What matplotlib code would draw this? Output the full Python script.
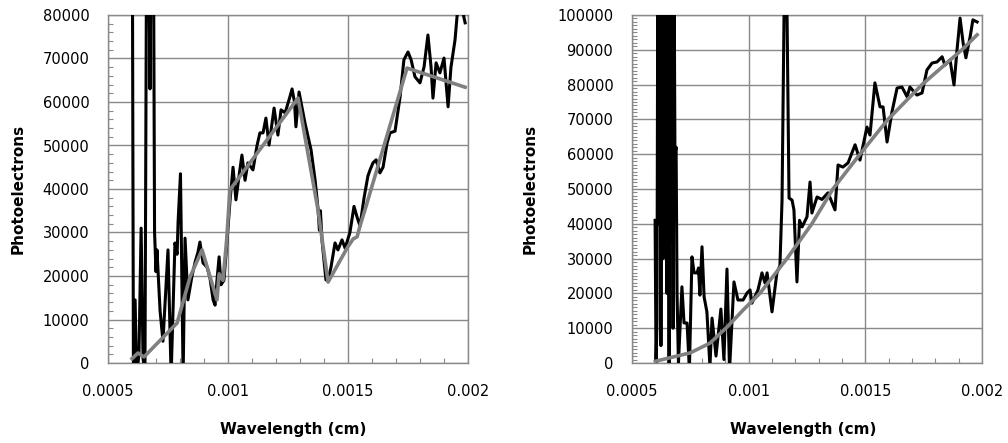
import matplotlib
matplotlib.use("Agg")
import matplotlib.pyplot as plt
from matplotlib.ticker import MultipleLocator, FixedLocator

# ---- left panel: measured spectrum and fitted curve ----
left_wl = [0.000600, 0.000606, 0.000613, 0.000619, 0.000629, 0.000638, 0.000646,
           0.000654, 0.000663, 0.000669, 0.000675, 0.000683, 0.000690, 0.000694,
           0.000700, 0.000704, 0.000717, 0.000729, 0.000750, 0.000763, 0.000779,
           0.000788, 0.000792, 0.000802, 0.000813, 0.000821, 0.000833, 0.000850,
           0.000863, 0.000875, 0.000883, 0.000896, 0.000913, 0.000925, 0.000938,
           0.000946, 0.000954, 0.000963, 0.000971, 0.000983, 0.000996, 0.001008,
           0.001021, 0.001033, 0.001046, 0.001058, 0.001071, 0.001083, 0.001104,
           0.001121, 0.001133, 0.001146, 0.001158, 0.001171, 0.001192, 0.001208,
           0.001221, 0.001238, 0.001258, 0.001267, 0.001277, 0.001283, 0.001296,
           0.001321, 0.001346, 0.001363, 0.001375, 0.001381, 0.001385, 0.001392,
           0.001408, 0.001417, 0.001429, 0.001446, 0.001458, 0.001475, 0.001488,
           0.001508, 0.001525, 0.001538, 0.001550, 0.001567, 0.001583, 0.001592,
           0.001604, 0.001617, 0.001633, 0.001646, 0.001663, 0.001675, 0.001696,
           0.001717, 0.001733, 0.001750, 0.001763, 0.001779, 0.001800, 0.001817,
           0.001833, 0.001846, 0.001854, 0.001867, 0.001883, 0.001900, 0.001917,
           0.001929, 0.001946, 0.001958, 0.001971, 0.001979, 0.001988]
left_counts = [130000, -3000, 14500, -3000, 2000, 31000, 1000,
               -2000, 130000, 100000, 63000, 120000, 90000, 30000,
               21000, 26000, 12000, 5000, 26000, -3000, 27600,
               25000, 32400, 43500, -3000, 28700, 14500, 20000,
               23200, 25500, 27800, 23000, 22000, 19500, 14500,
               13300, 19000, 24400, 18000, 19000, 28000, 37000,
               45000, 37500, 43000, 47800, 42000, 46000, 44400,
               50000, 52900, 52900, 56300, 50100, 58600, 52400,
               58200, 57500, 61200, 63000, 60000, 54300, 62300,
               55100, 49000, 42000, 35500, 30500, 35000, 28000,
               19100, 19000, 22000, 27600, 26000, 28300, 26400,
               30000, 36000, 33500, 31500, 38000, 43000, 44400,
               46000, 46700, 43700, 45000, 50600, 52900, 53300,
               61200, 69700, 71500, 69700, 65800, 64400, 68100,
               75400, 68100, 60900, 69000, 66700, 70100, 58900,
               68000, 74300, 82000, 84000, 80500, 78200]

left_fit_wl = [0.000600, 0.000625, 0.000650, 0.000788, 0.000842, 0.000892,
               0.000954, 0.000963, 0.000979, 0.000994, 0.001008, 0.001292,
               0.001375, 0.001417, 0.001496, 0.001521, 0.001538, 0.001550,
               0.001575, 0.001746, 0.001988]
left_fit = [1000, 2300, 1400, 9200, 19800, 26000,
            14500, 20500, 19000, 28000, 39800, 60900,
            35200, 18600, 26400, 28500, 29000, 31500,
            36000, 67800, 63400]

# ---- right panel: measured spectrum and fitted curve ----
right_wl = [0.000599, 0.000603, 0.000607, 0.000611, 0.000616, 0.000620, 0.000624,
            0.000629, 0.000633, 0.000637, 0.000641, 0.000646, 0.000650, 0.000654,
            0.000659, 0.000663, 0.000667, 0.000671, 0.000676, 0.000680, 0.000684,
            0.000689, 0.000693, 0.000699, 0.000714, 0.000723, 0.000736, 0.000746,
            0.000757, 0.000766, 0.000779, 0.000785, 0.000791, 0.000800, 0.000809,
            0.000821, 0.000834, 0.000843, 0.000860, 0.000881, 0.000894, 0.000907,
            0.000918, 0.000937, 0.000954, 0.000976, 0.000993, 0.001006, 0.001014,
            0.001040, 0.001057, 0.001070, 0.001079, 0.001100, 0.001121, 0.001134,
            0.001143, 0.001158, 0.001173, 0.001186, 0.001194, 0.001207, 0.001218,
            0.001229, 0.001250, 0.001263, 0.001271, 0.001293, 0.001314, 0.001340,
            0.001370, 0.001383, 0.001404, 0.001426, 0.001456, 0.001477, 0.001507,
            0.001520, 0.001541, 0.001563, 0.001576, 0.001593, 0.001614, 0.001636,
            0.001657, 0.001679, 0.001691, 0.001721, 0.001743, 0.001764, 0.001786,
            0.001807, 0.001829, 0.001841, 0.001863, 0.001880, 0.001893, 0.001906,
            0.001919, 0.001931, 0.001949, 0.001961, 0.001979]
right_counts = [41000, 0, 12000, 130000, 40000, 130000, 5000,
                125000, 30000, 130000, 90500, 140000, 20000, 130000,
                0, 120000, 35000, 125000, 10000, 120000, 60000,
                62000, 20000, 0, 21900, 11500, 11500, -2000,
                30500, 25900, 25900, 27300, 19500, 33400, 19000,
                14700, -1000, 12900, 2000, 15500, 1000, 27000,
                -2000, 23300, 18100, 18100, 20100, 21000, 17200,
                21000, 25900, 23000, 25900, 14700, 25900, 28000,
                46800, 140000, 47400, 46800, 44000, 23300, 41000,
                39100, 42000, 52000, 43100, 47700, 47000, 48900,
                44000, 56900, 56300, 57500, 62700, 58300, 67800,
                65500, 80500, 73600, 73600, 63500, 72100, 79000,
                79300, 76500, 79300, 77000, 77600, 84200, 86200,
                86500, 88000, 85600, 87100, 79900, 90000, 99100,
                92000, 87700, 93700, 98600, 98000]

right_fit_wl = [0.000600, 0.000749, 0.000834, 0.000907, 0.000976, 0.001049,
                0.001164, 0.001271, 0.001361, 0.001477, 0.001597, 0.001743,
                0.001914, 0.001979]
right_fit = [500, 2900, 5700, 10300, 15200, 20100,
             30000, 40000, 50000, 60000, 70000, 80000,
             90000, 94300]

x_ticks = [0.0005, 0.001, 0.0015, 0.002]
x_tick_labels = ["0.0005", "0.001", "0.0015", "0.002"]

GRID = "#898989"
FIT = "#808080"

plt.rcParams["font.family"] = ["DejaVu Sans"]

W, H = 1008, 443
fig = plt.figure(figsize=(W / 100, H / 100), dpi=100)


def panel(rect, wl, counts, fit_wl, fit, ymax, ystep, yminor, xlab_x, ylab_x):
    ax = fig.add_axes(rect)
    ax.plot(wl, counts, color="black", lw=2.2, solid_joinstyle="round", zorder=3)
    ax.plot(fit_wl, fit, color=FIT, lw=2.6, solid_joinstyle="round", zorder=4)
    ax.set_xlim(0.0005, 0.002)
    ax.set_ylim(0, ymax)
    ax.xaxis.set_major_locator(FixedLocator(x_ticks))
    ax.set_xticklabels(x_tick_labels)
    ax.xaxis.set_minor_locator(MultipleLocator(0.0001))
    ax.yaxis.set_major_locator(MultipleLocator(ystep))
    ax.yaxis.set_minor_locator(MultipleLocator(yminor))
    ax.grid(True, which="major", color=GRID, lw=1.0, zorder=1)
    for s in ax.spines.values():
        s.set_color(GRID)
        s.set_linewidth(1.0)
    ax.tick_params(which="major", length=0, labelsize=10.5, colors="black")
    ax.tick_params(axis="y", which="major", pad=13.5)
    ax.tick_params(axis="x", which="major", pad=15)
    ax.tick_params(which="minor", direction="in", length=3.5, width=0.8, color=GRID)
    ax.set_xlabel("Wavelength (cm)", fontsize=11, fontweight="bold", va="center")
    ax.set_ylabel("Photoelectrons", fontsize=11, fontweight="bold", va="center")
    ax.xaxis.set_label_coords(xlab_x, -0.19)
    ax.yaxis.set_label_coords(ylab_x, 0.5)
    return ax


panel([108 / W, 80 / H, 360 / W, 348 / H], left_wl, left_counts,
      left_fit_wl, left_fit, 80000, 10000, 2000, 0.514, -0.25)
panel([632 / W, 80 / H, 350 / W, 348 / H], right_wl, right_counts,
      right_fit_wl, right_fit, 100000, 10000, 1000, 0.489, -0.291)

fig.savefig("out.png", dpi=100)
